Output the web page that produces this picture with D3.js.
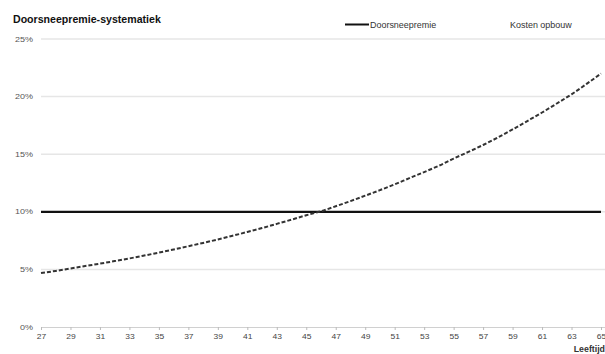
<!DOCTYPE html>
<html>
<head>
<meta charset="utf-8">
<script src="https://cdn.jsdelivr.net/npm/d3@7"></script>
<style>
  html, body { margin: 0; padding: 0; background: #fff; }
  svg { display: block; font-family: "Liberation Sans", Arial, sans-serif; }
</style>
</head>
<body>
<svg id="chart" width="605" height="354"></svg>
<script>
// Ages (Leeftijd) on the x axis
const ages = [27, 28, 29, 30, 31, 32, 33, 34, 35, 36, 37, 38, 39, 40, 41, 42, 43, 44, 45, 46,
              47, 48, 49, 50, 51, 52, 53, 54, 55, 56, 57, 58, 59, 60, 61, 62, 63, 64, 65];
// Flat average premium (percent)
const doorsneepremie = ages.map(() => 10);
// Cost of accrual per age (percent)
const kostenOpbouw = [4.68, 4.87, 5.08, 5.29, 5.50, 5.72, 5.95, 6.20, 6.46, 6.73, 7.01, 7.30, 7.60, 7.92,
                      8.25, 8.59, 8.95, 9.32, 9.70, 10.05, 10.48, 10.93, 11.40, 11.88, 12.38, 12.92,
                      13.45, 14.00, 14.62, 15.20, 15.80, 16.45, 17.15, 17.88, 18.62, 19.40, 20.20, 21.08, 22.00];
const xTicks = [27, 29, 31, 33, 35, 37, 39, 41, 43, 45, 47, 49, 51, 53, 55, 57, 59, 61, 63, 65];
const yTicks = [0, 5, 10, 15, 20, 25];

const svg = d3.select("#chart");
const plotLeft = 41, plotRight = 601, plotTop = 39, plotBottom = 327;

const x = d3.scaleLinear().domain([27, 65]).range([plotLeft, plotRight]);
const y = d3.scaleLinear().domain([0, 25]).range([plotBottom, plotTop]);

// Title
svg.append("text")
  .attr("x", 13).attr("y", 23)
  .attr("font-size", 10.6).attr("font-weight", "bold").attr("fill", "#111")
  .text("Doorsneepremie-systematiek");

// Horizontal gridlines
svg.append("g")
  .selectAll("line")
  .data(yTicks.filter(d => d > 0))
  .join("line")
  .attr("x1", plotLeft).attr("x2", 605)
  .attr("y1", d => y(d)).attr("y2", d => y(d))
  .attr("stroke", "#e6e6e6").attr("stroke-width", 1.5);

// Y axis labels (slightly widened lettering)
svg.append("g")
  .selectAll("text")
  .data(yTicks)
  .join("text")
  .attr("transform", d => `translate(33,${y(d) + 2.6}) scale(1.25,1)`)
  .attr("text-anchor", "end")
  .attr("font-size", 7.2).attr("fill", "#555")
  .text(d => d + "%");

// X axis
const xAxis = d3.axisBottom(x).tickValues(xTicks).tickSize(3).tickPadding(4).tickFormat(d3.format("d"));
const gx = svg.append("g").attr("transform", `translate(0,${plotBottom})`).call(xAxis);
gx.select(".domain").attr("stroke", "#d0d0d0").attr("stroke-width", 1.2).attr("d", `M${plotLeft},0.5H605`);
gx.selectAll(".tick line").attr("stroke", "#bbb");
gx.selectAll(".tick text").attr("font-size", 7.4).attr("fill", "#444")
  .attr("font-family", "Liberation Sans, Arial, sans-serif")
  .attr("transform", "scale(1.15,1)");

svg.append("text")
  .attr("x", 605).attr("y", 352)
  .attr("text-anchor", "end")
  .attr("font-size", 8.8).attr("font-weight", "bold").attr("fill", "#333")
  .text("Leeftijd");

const line = d3.line().x((d, i) => x(ages[i])).y(d => y(d)).curve(d3.curveMonotoneX);

// Doorsneepremie line
svg.append("path")
  .datum(doorsneepremie)
  .attr("d", line)
  .attr("fill", "none").attr("stroke", "#111").attr("stroke-width", 2.2);

// Kosten opbouw dashed curve
svg.append("path")
  .datum(kostenOpbouw)
  .attr("d", line)
  .attr("fill", "none").attr("stroke", "#333").attr("stroke-width", 2)
  .attr("stroke-dasharray", "4,2");

// Legend
const legend = svg.append("g");
legend.append("line")
  .attr("x1", 345).attr("x2", 369).attr("y1", 24.5).attr("y2", 24.5)
  .attr("stroke", "#111").attr("stroke-width", 2);
legend.append("text")
  .attr("transform", "translate(370,27.5) scale(1.08,1)")
  .attr("font-size", 8.3).attr("fill", "#333")
  .text("Doorsneepremie");
legend.append("text")
  .attr("transform", "translate(510,27.5) scale(1.08,1)")
  .attr("font-size", 8.3).attr("fill", "#333")
  .text("Kosten opbouw");
</script>
</body>
</html>
